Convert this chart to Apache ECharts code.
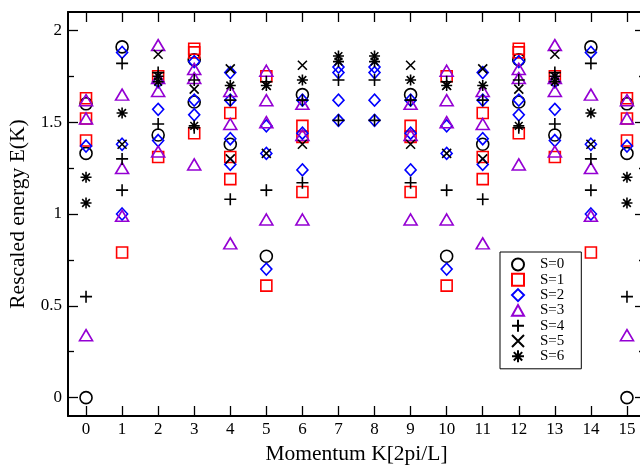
<!DOCTYPE html>
<html>
<head>
<meta charset="utf-8">
<script src="https://cdn.jsdelivr.net/npm/echarts@6/dist/echarts.min.js"></script>
<style>html,body{margin:0;padding:0;background:#fff}#c{width:640px;height:466px}</style>
</head>
<body>
<div id="c"></div>
<script>
// Momentum values K = 0..15
const momentum = [0,1,2,3,4,5,6,7,8,9,10,11,12,13,14,15];
const xTickLabels = [0,1,2,3,4,5,6,7,8,9,10,11,12,13,14,15];
const yTickLabels = [0,0.5,1,1.5,2];
const yMinorTicks = [0.25,0.75,1.25,1.75];
const seriesNames = ['S=0','S=1','S=2','S=3','S=4','S=5','S=6'];

// Rescaled energies for each K (one inner list per momentum value)
const s0 = [[0,1.60,1.33],[1.91],[1.43],[1.84,1.61],[1.38],[0.77],[1.65],[],
            [],[1.65],[0.77],[1.38],[1.84,1.61],[1.43],[1.91],[0,1.60,1.33]];
const s1 = [[1.63,1.52,1.40],[0.79],[1.75,1.31],[1.90,1.88,1.44],[1.55,1.31,1.19],[1.75,0.61],[1.48,1.42,1.12],[],
            [],[1.48,1.42,1.12],[1.75,0.61],[1.55,1.31,1.19],[1.90,1.88,1.44],[1.75,1.31],[0.79],[1.63,1.52,1.40]];
const s2 = [[1.37],[1.88,1.38,1.00],[1.72,1.57,1.40],[1.83,1.62,1.54],[1.77,1.62,1.41,1.27],[1.48,1.33,0.70],[1.62,1.44,1.24],[1.80,1.77,1.62,1.51],
            [1.80,1.77,1.62,1.51],[1.62,1.44,1.24],[1.48,1.33,0.70],[1.77,1.62,1.41,1.27],[1.83,1.62,1.54],[1.72,1.57,1.40],[1.88,1.38,1.00],[1.37]];
const s3 = [[1.62,1.52,0.34],[1.65,1.25,0.99],[1.92,1.74,1.67,1.34],[1.79,1.74,1.27],[1.67,1.49,0.84],[1.78,1.62,1.50,0.97],[1.60,1.43,0.97],[],
            [],[1.60,1.43,0.97],[1.78,1.62,1.50,0.97],[1.67,1.49,0.84],[1.79,1.74,1.27],[1.92,1.74,1.67,1.34],[1.65,1.25,0.99],[1.62,1.52,0.34]];
const s4 = [[0.55],[1.82,1.30,1.13],[1.77,1.49],[1.73,1.47],[1.62,1.08],[1.72,1.13],[1.62,1.17],[1.73,1.51],
            [1.73,1.51],[1.62,1.17],[1.72,1.13],[1.62,1.08],[1.73,1.47],[1.77,1.49],[1.82,1.30,1.13],[0.55]];
const s5 = [[],[1.38],[1.87],[1.68],[1.79,1.30],[1.70,1.33],[1.81,1.38],[],
            [],[1.81,1.38],[1.70,1.33],[1.79,1.30],[1.68],[1.87],[1.38],[]];
const s6 = [[1.20,1.06],[1.55],[1.75,1.72],[1.48],[1.70],[1.70],[1.73],[1.86,1.83],
            [1.86,1.83],[1.73],[1.70],[1.70],[1.48],[1.75,1.72],[1.55],[1.20,1.06]];

const allSeries = [s0,s1,s2,s3,s4,s5,s6];
function pairs(arr){
  const out = [];
  arr.forEach((vals,i)=>vals.forEach(v=>out.push([momentum[i], v])));
  return out;
}

const styles = [
  {symbol:'circle', size:12, color:'#000000'},
  {symbol:'rect', size:11, color:'#ff0000'},
  {symbol:'path://M5,0L10,5L5,10L0,5Z', size:[11,12], color:'#0000ff'},
  {symbol:'path://M5,0L10,9L0,9Z', size:[13,11], color:'#9400d3'},
  {symbol:'path://M5,0L5,10M0,5L10,5', size:12, color:'#000000'},
  {symbol:'path://M0,0L10,10M10,0L0,10', size:9, color:'#000000'},
  {symbol:'path://M5,0L5,10M0,5L10,5M1.5,1.5L8.5,8.5M8.5,1.5L1.5,8.5', size:11, color:'#000000'}
];

const FONT = 'Liberation Serif';
const series = allSeries.map((arr,i)=>({
  name: seriesNames[i],
  type: 'scatter',
  data: pairs(arr),
  symbol: styles[i].symbol,
  symbolSize: styles[i].size,
  itemStyle: {color:'transparent', borderColor: styles[i].color, borderWidth: 1.6, opacity: 1},
  emphasis: {disabled: true},
  xAxisIndex: 0, yAxisIndex: 0,
  z: 3
}));

const axisLine = {show:true, onZero:false, lineStyle:{color:'#000', width:2}};
const noLine = {show:false, onZero:false};
const chart = echarts.init(document.getElementById('c'), null, {renderer:'canvas'});
chart.setOption({
  animation: false,
  backgroundColor: '#fff',
  textStyle: {fontFamily: FONT},
  grid: {left: 68, right: -5, top: 12, bottom: 50, containLabel: false, outerBoundsMode: 'none'},
  xAxis: [
    {type:'value', position:'bottom', min:-0.5, max:15.5,
     name:'Momentum K[2pi/L]', nameLocation:'middle', nameGap:27,
     nameTextStyle:{fontFamily:FONT, fontSize:21.5, color:'#000'},
     axisLine: axisLine,
     axisTick:{show:true, inside:true, length:10, customValues: momentum, lineStyle:{color:'#000', width:1.3}},
     axisLabel:{show:true, customValues: xTickLabels, fontFamily:FONT, fontSize:17, color:'#000', margin:5},
     splitLine:{show:false}},
    {type:'value', position:'top', min:-0.5, max:15.5,
     axisLine: axisLine,
     axisTick:{show:true, inside:true, length:10, customValues: momentum, lineStyle:{color:'#000', width:1.3}},
     axisLabel:{show:false}, splitLine:{show:false}}
  ],
  yAxis: [
    {type:'value', position:'left', min:-0.1, max:2.1,
     name:'Rescaled energy E(K)', nameLocation:'middle', nameGap:39,
     nameTextStyle:{fontFamily:FONT, fontSize:21.5, color:'#000'},
     axisLine: axisLine,
     axisTick:{show:true, inside:true, length:10, customValues: yTickLabels, lineStyle:{color:'#000', width:1.3}},
     axisLabel:{show:true, customValues: yTickLabels, fontFamily:FONT, fontSize:17, color:'#000', margin:6},
     splitLine:{show:false}},
    {type:'value', position:'left', min:-0.1, max:2.1,
     axisLine: noLine,
     axisTick:{show:true, inside:true, length:6, customValues: yMinorTicks, lineStyle:{color:'#000', width:1.3}},
     axisLabel:{show:false}, splitLine:{show:false}},
    {type:'value', position:'right', min:-0.1, max:2.1,
     axisLine: axisLine,
     axisTick:{show:true, inside:true, length:10, customValues: yTickLabels, lineStyle:{color:'#000', width:1.3}},
     axisLabel:{show:false}, splitLine:{show:false}},
    {type:'value', position:'right', min:-0.1, max:2.1,
     axisLine: noLine,
     axisTick:{show:true, inside:true, length:6, customValues: yMinorTicks, lineStyle:{color:'#000', width:1.3}},
     axisLabel:{show:false}, splitLine:{show:false}}
  ],
  legend: {
    show: true, orient:'vertical', left: 500, top: 252,
    data: seriesNames,
    backgroundColor:'#fff', borderColor:'#000', borderWidth:1, borderRadius:0,
    padding:[5,17,5,11],
    itemWidth: 12, itemHeight: 12, itemGap: 0.3,
    selectedMode: false,
    textStyle:{fontFamily:FONT, fontSize:15, color:'#000', lineHeight:12, padding:[0,0,0,11]}
  },
  series: series
});
</script>
</body>
</html>
